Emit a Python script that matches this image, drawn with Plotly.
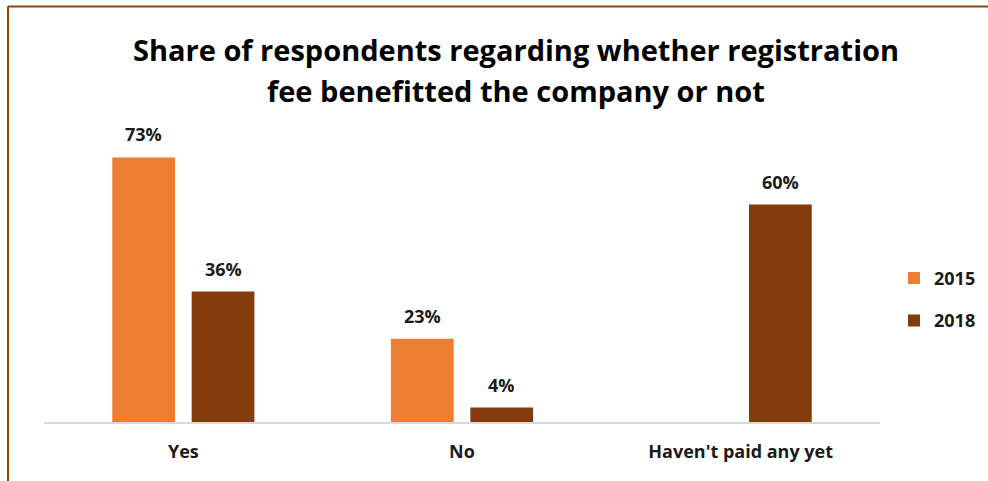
import plotly.graph_objects as go

categories = ["Yes", "No", "Haven't paid any yet"]
share_2015 = [73, 23, None]
share_2018 = [36, 4, 60]
series_names = ["2015", "2018"]
colors = ["#ED7D31", "#843C0C"]
title_lines = ["Share of respondents regarding whether registration",
               "fee benefitted the company or not"]

W, H = 988, 481
ML, MR, MT, MB = 44, 108, 132.4, 59
plot_w = W - ML - MR
plot_h = H - MT - MB

FONT = "Open Sans"
BARGAP, GROUPGAP = 0.43, 0.21


def px_x(x):
    return (x - ML) / plot_w


def px_y(y):
    return (H - MB - y) / plot_h


fig = go.Figure()
for i, (name, vals) in enumerate(zip(series_names, [share_2015, share_2018])):
    fig.add_trace(go.Bar(
        x=categories, y=vals, name=name, legendgroup=name,
        marker=dict(color=colors[i], line=dict(width=0)),
    ))

# value labels above each bar, centred over its slot in the group
cat_w = plot_w / len(categories)
slot = cat_w * (1 - BARGAP) / len(series_names)
for i, vals in enumerate([share_2015, share_2018]):
    offset = (i - (len(series_names) - 1) / 2) * slot
    for cat, v in zip(categories, vals):
        if v is None:
            continue
        fig.add_annotation(
            x=cat, y=v, text=f"{v}%", showarrow=False,
            xshift=offset, yshift=23, yanchor="middle",
            font=dict(family=FONT, size=18, color="#1a1a1a", weight="bold"),
        )

# two-line chart title with wider line spacing
for line, yc in zip(title_lines, [50, 91]):
    fig.add_annotation(
        text=line, showarrow=False, xref="paper", yref="paper",
        x=px_x(516), y=px_y(yc), xanchor="center", yanchor="middle",
        font=dict(family=FONT, size=29, color="#000000", weight="bold"),
    )

# frame lines along the left and top edge
frame = "#8B4513"
fig.add_shape(type="line", xref="paper", yref="paper",
              x0=px_x(8), x1=px_x(8), y0=px_y(7), y1=px_y(H + 5),
              line=dict(color=frame, width=2))
fig.add_shape(type="line", xref="paper", yref="paper",
              x0=px_x(8), x1=px_x(W + 5), y0=px_y(7), y1=px_y(7),
              line=dict(color=frame, width=2))

fig.update_layout(
    width=W, height=H,
    margin=dict(l=ML, r=MR, t=MT, b=MB, autoexpand=False),
    paper_bgcolor="white", plot_bgcolor="white",
    barmode="group", bargap=BARGAP, bargroupgap=GROUPGAP,
    font=dict(family=FONT, color="#1a1a1a"),
    xaxis=dict(
        showline=True, linecolor="#d9d9d9", linewidth=2,
        showgrid=False, ticks="", ticklabelstandoff=12,
        tickfont=dict(family=FONT, size=18, color="#1a1a1a", weight="bold"),
    ),
    yaxis=dict(range=[0, 80], visible=False, showgrid=False, zeroline=False),
    legend=dict(
        x=px_x(894), y=px_y(260), xanchor="left", yanchor="top",
        font=dict(family=FONT, size=18, color="#1a1a1a", weight="bold"),
        tracegroupgap=16, itemwidth=30, bgcolor="rgba(0,0,0,0)",
    ),
    showlegend=True,
)

fig.write_html("out.html")
